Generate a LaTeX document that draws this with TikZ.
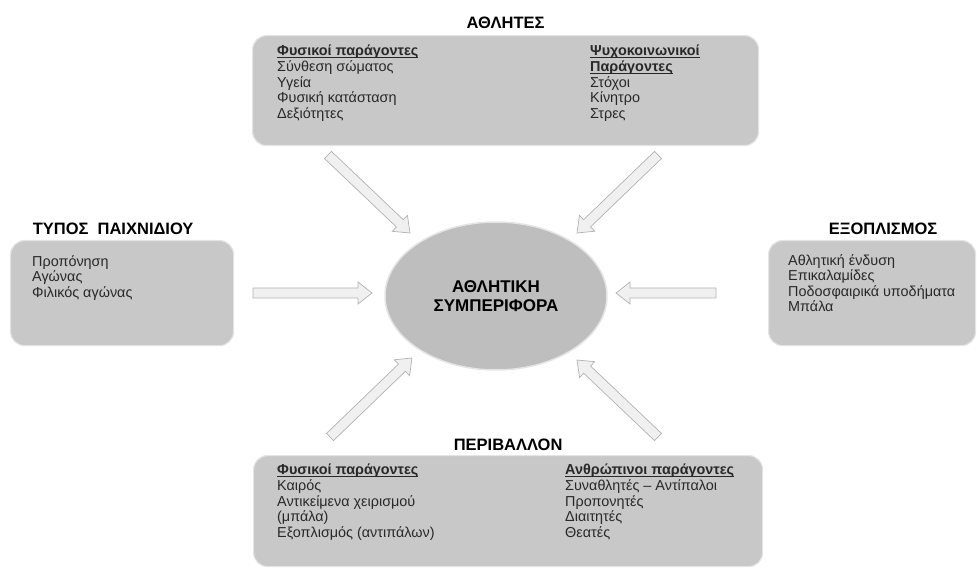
\documentclass[tikz,border=0pt]{standalone}
\usepackage{fontspec}
\setmainfont{Liberation Sans}
\usetikzlibrary{shapes.geometric, positioning, calc}
\definecolor{boxgray}{RGB}{200, 200, 200}
\definecolor{boxedge}{RGB}{228, 228, 228}
\definecolor{ellgray}{RGB}{190, 190, 190}
\definecolor{textgray}{RGB}{40, 40, 40}

% underlined bold column heading
\newcommand{\ulhead}[1]{\textbf{\setbox0\hbox{#1}\rlap{\rule[-2.4pt]{\wd0}{0.9pt}}\box0}}

% hollow block arrow from #1 (tail) to #2 (tip)
\newcommand{\blockarrow}[2]{%
  \coordinate (neck) at ($(#2)!14pt!(#1)$);
  \filldraw[arrowbody] ($(#1)!5pt!90:(#2)$) -- ($(neck)!5pt!-90:(#1)$) -- ($(neck)!11pt!-90:(#1)$)
    -- (#2) -- ($(neck)!11pt!90:(#1)$) -- ($(neck)!5pt!90:(#1)$) -- ($(#1)!5pt!-90:(#2)$) -- cycle;}

\begin{document}
\begin{tikzpicture}[x=1pt, y=-1pt,
    group/.style={draw=boxedge, line width=1.2pt, fill=boxgray, rounded corners=14pt, inner sep=0pt},
    heading/.style={font=\fontsize{16.5}{18}\selectfont\bfseries},
    items/.style={anchor=north west, align=left, inner sep=0pt, text=textgray, font=\fontsize{14.4}{15.6}\selectfont},
    arrowbody/.style={fill=gray!12, draw=gray!60, line width=0.7pt}]
    \useasboundingbox (0,0) rectangle (977,569);

    % boxes
    \node[group, anchor=north west, minimum width=506pt, minimum height=110pt] (athletes) at (252,35) {};
    \node[group, anchor=north west, minimum width=223pt, minimum height=105pt] (gametype) at (10,240) {};
    \node[group, anchor=north west, minimum width=207pt, minimum height=105pt] (equip) at (768,240) {};
    \node[group, anchor=north west, minimum width=509pt, minimum height=111pt] (environ) at (253,455) {};

    \node[heading, above=3pt of athletes] (t-athletes) {ΑΘΛΗΤΕΣ};
    \node[heading, above=2pt of gametype, xshift=-9pt] (t-gametype) {ΤΥΠΟΣ\ \ ΠΑΙΧΝΙΔΙΟΥ};
    \node[heading, above=2pt of equip, xshift=11pt] (t-equip) {ΕΞΟΠΛΙΣΜΟΣ};
    \node[heading, above=1pt of environ] (t-environ) {ΠΕΡΙΒΑΛΛΟΝ};

    % box contents
    \node[items] (athl-phys) at (277,45) {\ulhead{Φυσικοί παράγοντες}\\Σύνθεση σώματος\\Υγεία\\Φυσική κατάσταση\\Δεξιότητες};
    \node[items] (athl-psy) at (590,45) {\ulhead{Ψυχοκοινωνικοί}\\\ulhead{Παράγοντες}\\Στόχοι\\Κίνητρο\\Στρες};
    \node[items] (game-list) at (32,255) {Προπόνηση\\Αγώνας\\Φιλικός αγώνας};
    \node[items] (equip-list) at (788,254) {Αθλητική ένδυση\\Επικαλαμίδες\\Ποδοσφαιρικά υποδήματα\\Μπάλα};
    \node[items] (env-phys) at (277,464) {\ulhead{Φυσικοί παράγοντες}\\Καιρός\\Αντικείμενα χειρισμού\\(μπάλα)\\Εξοπλισμός (αντιπάλων)};
    \node[items] (env-hum) at (565,464) {\ulhead{Ανθρώπινοι παράγοντες}\\Συναθλητές -- Αντίπαλοι\\Προπονητές\\Διαιτητές\\Θεατές};

    % centre
    \node[ellipse, fill=ellgray, draw=white!80!gray, line width=1.5pt, minimum width=222pt, minimum height=148pt,
      align=center, font=\fontsize{17}{19}\selectfont\bfseries] (behaviour) at (496,296) {ΑΘΛΗΤΙΚΗ\\ΣΥΜΠΕΡΙΦΟΡΑ};

    % arrows
    \coordinate (a-tl) at (328,155);  \coordinate (h-tl) at (410,233);
    \coordinate (a-tr) at (658,155);  \coordinate (h-tr) at (577,233);
    \coordinate (a-l) at (253,293);   \coordinate (h-l) at (372,293);
    \coordinate (a-r) at (716,293);   \coordinate (h-r) at (616,293);
    \coordinate (a-bl) at (330,437);  \coordinate (h-bl) at (412,358);
    \coordinate (a-br) at (658,437);  \coordinate (h-br) at (577,360);
    \blockarrow{a-tl}{h-tl}
    \blockarrow{a-tr}{h-tr}
    \blockarrow{a-l}{h-l}
    \blockarrow{a-r}{h-r}
    \blockarrow{a-bl}{h-bl}
    \blockarrow{a-br}{h-br}
\end{tikzpicture}
\end{document}
